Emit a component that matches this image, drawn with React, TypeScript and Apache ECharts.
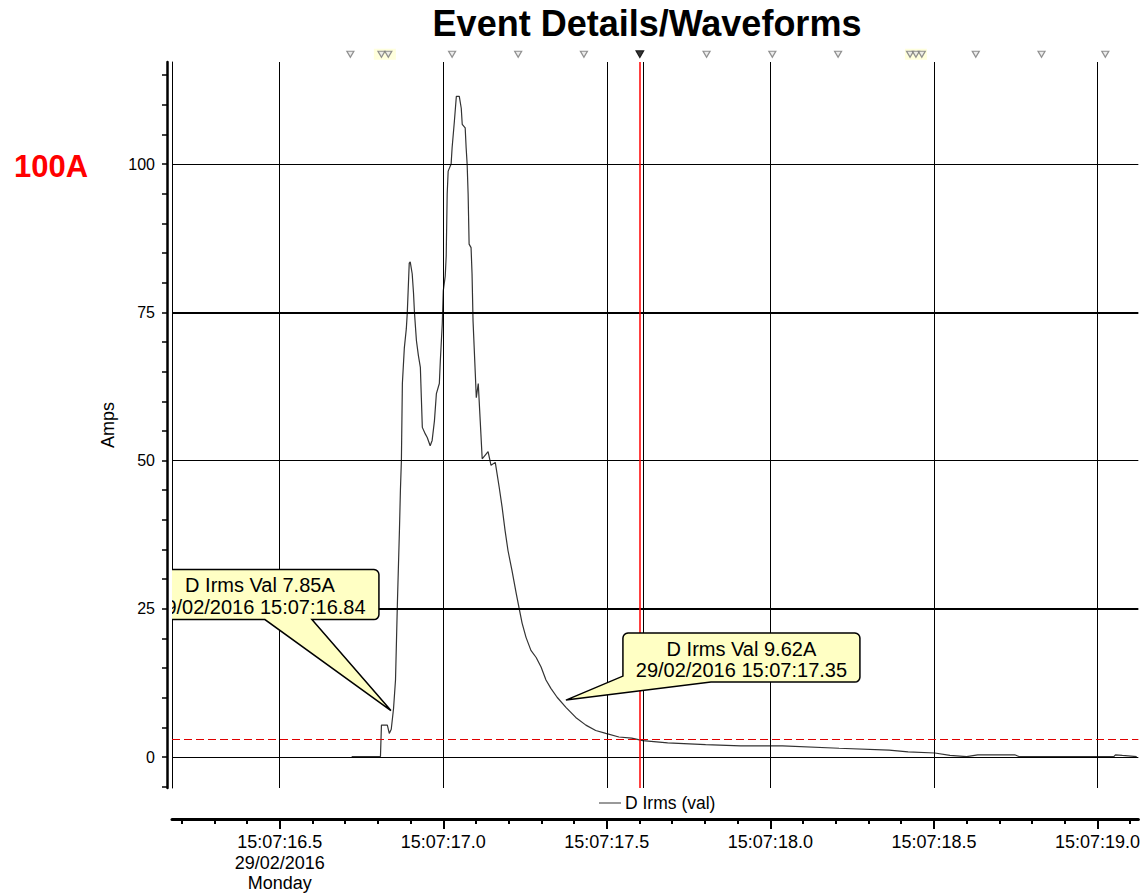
import React, { useEffect, useRef } from 'react';
import * as echarts from 'echarts';

// ---------- texts ----------
const TITLE = 'Event Details/Waveforms';
const SIDE_LABEL = '100A';
const SERIES_NAME = 'D Irms (val)';
const Y_NAME = 'Amps';
const TIME_PREFIX = '15:07:';
const DATE_LABEL = '29/02/2016';
const DAY_LABEL = 'Monday';

// ---------- axes ----------
const X_MIN = 16.1707;
const X_MAX = 19.125;
const Y_MIN = -5.2;
const Y_MAX = 117.2;

const X_LABEL_TICKS = [16.5, 17.0, 17.5, 18.0, 18.5, 19.0];
const X_MINOR_TICKS = [
  16.2, 16.3, 16.4, 16.5, 16.6, 16.7, 16.8, 16.9, 17.0, 17.1,
  17.2, 17.3, 17.4, 17.5, 17.6, 17.7, 17.8, 17.9, 18.0, 18.1,
  18.2, 18.3, 18.4, 18.5, 18.6, 18.7, 18.8, 18.9, 19.0, 19.1,
];
const Y_LABEL_TICKS = [0, 25, 50, 75, 100];
const Y_MINOR_TICKS = [
  -5, 0, 5, 10, 15, 20, 25, 30, 35, 40, 45, 50, 55, 60, 65, 70, 75, 80, 85, 90, 95, 100, 105, 110, 115,
];
const Y_GRID_THIN = [0, 50, 100];
const Y_GRID_THICK = [25, 75];

// ---------- waveform (seconds after 15:07:00, amps) ----------
const TIMES = [
  16.720, 16.808, 16.811, 16.829, 16.835, 16.841, 16.848, 16.854, 16.857, 16.860,
  16.866, 16.869, 16.872, 16.875, 16.881, 16.887, 16.890, 16.896, 16.899, 16.905,
  16.909, 16.912, 16.918, 16.924, 16.930, 16.933, 16.936, 16.945, 16.951, 16.960,
  16.966, 16.973, 16.979, 16.988, 16.991, 16.997, 17.000, 17.006, 17.009, 17.012,
  17.015, 17.024, 17.027, 17.034, 17.040, 17.049, 17.055, 17.058, 17.067, 17.070,
  17.073, 17.076, 17.079, 17.085, 17.088, 17.091, 17.098, 17.101, 17.107, 17.113,
  17.119, 17.137, 17.146, 17.159, 17.171, 17.180, 17.189, 17.198, 17.210, 17.223,
  17.232, 17.241, 17.253, 17.268, 17.284, 17.299, 17.314, 17.329, 17.348, 17.375,
  17.405, 17.436, 17.466, 17.497, 17.537, 17.576, 17.610, 17.686, 17.802, 17.909,
  18.037, 18.210, 18.363, 18.421, 18.503, 18.549, 18.600, 18.634, 18.747, 18.760,
  19.050, 19.055, 19.076, 19.120,
];
const AMPS = [
  0.1, 0.1, 5.4, 5.4, 4.0, 4.7, 8.2, 13.0, 19.7, 26.4,
  38.2, 45.0, 50.0, 63.0, 69.0, 72.2, 74.9, 83.3, 83.5, 81.5,
  78.3, 74.9, 70.2, 67.7, 65.7, 60.6, 55.6, 54.5, 53.9, 52.5,
  53.4, 56.7, 61.3, 63.0, 66.8, 73.1, 78.6, 81.1, 84.5, 95.0,
  98.8, 100.0, 102.7, 107.2, 111.4, 111.4, 109.4, 106.7, 106.1, 102.7,
  100.0, 95.0, 86.5, 85.9, 81.5, 73.6, 64.6, 60.6, 63.0, 56.7,
  50.3, 51.5, 49.2, 49.7, 45.5, 42.1, 38.2, 34.8, 31.5, 27.6,
  25.1, 22.6, 20.2, 18.0, 16.8, 15.2, 13.0, 11.6, 10.1, 8.4,
  6.7, 5.4, 4.5, 4.0, 3.4, 3.2, 2.8, 2.4, 2.1, 1.9,
  1.9, 1.5, 1.2, 0.9, 0.7, 0.3, 0.1, 0.4, 0.4, 0.1,
  0.1, 0.4, 0.3, 0.1,
];

// ---------- cursor / threshold ----------
const CURSOR_TIME = 17.599;
const CURSOR_SHADOW_TIME = 17.607;
const THRESHOLD_AMPS = 3.03;

// ---------- event markers on top ----------
const EVENT_MARKER_TIMES = [
  16.716, 16.811, 16.832, 17.027, 17.229, 17.430, 17.805, 18.006, 18.207,
  18.427, 18.445, 18.463, 18.628, 18.829, 19.024,
];
const EVENT_HIGHLIGHT_TIMES = [16.8215, 18.445];
const CURSOR_MARKER_TIME = 17.601;
const MARKER_ROW_AMPS = 118.5;

// ---------- callouts ----------
const CALLOUT_TIMES = [16.84, 17.375];
const CALLOUT_AMPS = [7.85, 9.62];
const CALLOUT_LINE1 = ['D Irms Val 7.85A', 'D Irms Val 9.62A'];
const CALLOUT_LINE2 = ['29/02/2016 15:07:16.84', '29/02/2016 15:07:17.35'];

const FONT = '"Liberation Sans", Arial, Helvetica, sans-serif';

function arc(cx: number, cy: number, r: number, a0: number, a1: number): number[][] {
  const pts: number[][] = [];
  const n = 4;
  for (let k = 0; k <= n; k++) {
    const a = ((a0 + ((a1 - a0) * k) / n) * Math.PI) / 180;
    pts.push([cx + r * Math.cos(a), cy + r * Math.sin(a)]);
  }
  return pts;
}

function calloutRender(params: any, api: any) {
  const i = params.dataIndex;
  const p = api.coord([api.value(0), api.value(1)]);
  const px = p[0];
  const py = p[1];
  const r = 5;
  let x0: number, y0: number, w: number, h: number;
  let pts: number[][] = [];
  if (i === 0) {
    x0 = px - 250; y0 = py - 141; w = 238; h = 50;
    const x1 = x0 + w, y1 = y0 + h;
    pts = pts.concat(arc(x0 + r, y0 + r, r, 180, 270));
    pts = pts.concat(arc(x1 - r, y0 + r, r, 270, 360));
    pts = pts.concat(arc(x1 - r, y1 - r, r, 0, 90));
    pts.push([px - 79, y1], [px, py], [px - 126, y1]);
    pts = pts.concat(arc(x0 + r, y1 - r, r, 90, 180));
  } else {
    x0 = px + 57; y0 = py - 67; w = 237; h = 49;
    const x1 = x0 + w, y1 = y0 + h;
    pts = pts.concat(arc(x0 + r, y0 + r, r, 180, 270));
    pts = pts.concat(arc(x1 - r, y0 + r, r, 270, 360));
    pts = pts.concat(arc(x1 - r, y1 - r, r, 0, 90));
    pts.push([px + 145, y1], [px, py], [x0, py - 24]);
  }
  const cx = x0 + w / 2;
  return {
    type: 'group',
    children: [
      {
        type: 'polygon',
        shape: { points: pts },
        style: { fill: '#ffffc4', stroke: '#000', lineWidth: 1.5 },
      },
      {
        type: 'text',
        style: {
          text: CALLOUT_LINE1[i], x: cx, y: y0 + 15.5, fill: '#000',
          font: `20px ${FONT}`, textAlign: 'center', textVerticalAlign: 'middle',
        },
      },
      {
        type: 'text',
        style: {
          text: CALLOUT_LINE2[i], x: cx, y: y0 + 37, fill: '#000',
          font: `20px ${FONT}`, textAlign: 'center', textVerticalAlign: 'middle',
        },
      },
    ],
  };
}

function buildOption(): any {
  const triangle = 'path://M0,0 L10,0 L5,9 Z';
  return {
    animation: false,
    backgroundColor: '#ffffff',
    textStyle: { fontFamily: FONT },
    grid: { left: 172, right: 2, top: 62, bottom: 108, containLabel: false },
    legend: {
      data: [SERIES_NAME],
      left: 599,
      top: 794,
      padding: 0,
      icon: 'rect',
      itemWidth: 22,
      itemHeight: 1,
      itemGap: 0,
      selectedMode: false,
      textStyle: { fontSize: 17.5, color: '#000', fontFamily: FONT, padding: [0, 0, 0, -1] },
    },
    graphic: [
      {
        type: 'text', x: 647, y: 23,
        style: {
          text: TITLE, fill: '#000', font: `bold 36px ${FONT}`,
          textAlign: 'center', textVerticalAlign: 'middle',
        },
      },
      {
        type: 'text', x: 14, y: 166,
        style: {
          text: SIDE_LABEL, fill: '#ff0000', font: `bold 31px ${FONT}`,
          textAlign: 'left', textVerticalAlign: 'middle',
        },
      },
    ],
    xAxis: [
      {
        type: 'value', min: X_MIN, max: X_MAX, position: 'bottom', offset: 31,
        axisLine: { show: true, onZero: false, lineStyle: { color: '#000', width: 3 } },
        axisTick: { show: true, customValues: X_MINOR_TICKS, length: 5, lineStyle: { color: '#000', width: 2 } },
        axisLabel: {
          show: true, customValues: X_LABEL_TICKS, margin: 13, color: '#000',
          fontSize: 18, fontFamily: FONT, lineHeight: 20.5,
          formatter: (v: number) => {
            const s = TIME_PREFIX + v.toFixed(1);
            return Math.abs(v - X_LABEL_TICKS[0]) < 1e-6 ? s + '\n' + DATE_LABEL + '\n' + DAY_LABEL : s;
          },
        },
        splitLine: { show: false },
      },
      {
        type: 'value', min: X_MIN, max: X_MAX, position: 'bottom', offset: 31,
        axisLine: { show: false, onZero: false },
        axisTick: { show: true, customValues: X_LABEL_TICKS, length: 10, lineStyle: { color: '#000', width: 2 } },
        axisLabel: { show: false },
        splitLine: { show: false },
      },
    ],
    yAxis: [
      {
        type: 'value', min: Y_MIN, max: Y_MAX, position: 'left', offset: 5,
        name: Y_NAME, nameLocation: 'middle', nameGap: 50,
        nameTextStyle: { fontSize: 18, color: '#000', fontFamily: FONT },
        axisLine: { show: true, onZero: false, lineStyle: { color: '#000', width: 2.5 } },
        axisTick: { show: true, customValues: Y_MINOR_TICKS, length: 5, lineStyle: { color: '#000', width: 1.5 } },
        axisLabel: { show: true, customValues: Y_LABEL_TICKS, margin: 12, fontSize: 16, color: '#000', fontFamily: FONT },
        splitLine: { show: false },
      },
      {
        type: 'value', min: Y_MIN, max: Y_MAX, position: 'left', offset: 0,
        axisLine: { show: true, onZero: false, lineStyle: { color: '#000', width: 1 } },
        axisTick: { show: false },
        axisLabel: { show: false },
        splitLine: { show: false },
      },
    ],
    series: [
      {
        type: 'line', data: [], z: 1, silent: true,
        markLine: {
          silent: true, symbol: ['none', 'none'], label: { show: false },
          lineStyle: { color: '#000', width: 1, type: 'solid' },
          emphasis: { disabled: true },
          data: [
            ...X_LABEL_TICKS.map((v) => ({ xAxis: v })),
            ...Y_GRID_THIN.map((v) => ({ yAxis: v })),
            ...Y_GRID_THICK.map((v) => ({ yAxis: v, lineStyle: { width: 2 } })),
          ],
        },
      },
      {
        name: SERIES_NAME, type: 'line', z: 3,
        data: TIMES.map((t, i) => [t, AMPS[i]]),
        showSymbol: false, symbol: 'none',
        lineStyle: { color: '#333333', width: 1.2 },
        itemStyle: { color: '#333333' },
        clip: true, silent: true,
      },
      {
        type: 'line', data: [], z: 4, silent: true,
        markLine: {
          silent: true, symbol: ['none', 'none'], label: { show: false },
          emphasis: { disabled: true },
          data: [
            { xAxis: CURSOR_SHADOW_TIME, lineStyle: { color: '#000', width: 1, type: 'solid' } },
            { xAxis: CURSOR_TIME, lineStyle: { color: '#ff0000', width: 1.5, type: 'solid' } },
            { yAxis: THRESHOLD_AMPS, lineStyle: { color: '#e00000', width: 1, type: [8, 4] } },
          ],
        },
      },
      {
        type: 'scatter', z: 4, silent: true, clip: false,
        data: EVENT_HIGHLIGHT_TIMES.map((t) => [t, MARKER_ROW_AMPS]),
        symbol: 'rect', symbolSize: [22, 11],
        itemStyle: { color: '#ffffd4' },
      },
      {
        type: 'scatter', z: 5, silent: true, clip: false,
        data: EVENT_MARKER_TIMES.map((t) => [t, MARKER_ROW_AMPS]),
        symbol: triangle, symbolSize: [7, 6],
        itemStyle: { color: '#e8e8e8', borderColor: '#777777', borderWidth: 1.2 },
      },
      {
        type: 'scatter', z: 6, silent: true, clip: false,
        data: [[CURSOR_MARKER_TIME, MARKER_ROW_AMPS]],
        symbol: triangle, symbolSize: [8, 7],
        itemStyle: { color: '#000000', borderColor: '#000', borderWidth: 1 },
      },
      {
        type: 'custom', z: 10, silent: true, clip: true,
        data: CALLOUT_TIMES.map((t, i) => [t, CALLOUT_AMPS[i]]),
        encode: { x: 0, y: 1 },
        renderItem: calloutRender,
      },
    ],
  };
}

export default function App() {
  const ref = useRef<HTMLDivElement>(null);
  useEffect(() => {
    if (!ref.current) return;
    const chart = echarts.init(ref.current, undefined, { renderer: 'svg' });
    chart.setOption(buildOption());
    return () => chart.dispose();
  }, []);
  return (
    <div
      ref={ref}
      style={{ position: 'fixed', left: 0, top: 0, width: 1143, height: 896, background: '#fff' }}
    />
  );
}
